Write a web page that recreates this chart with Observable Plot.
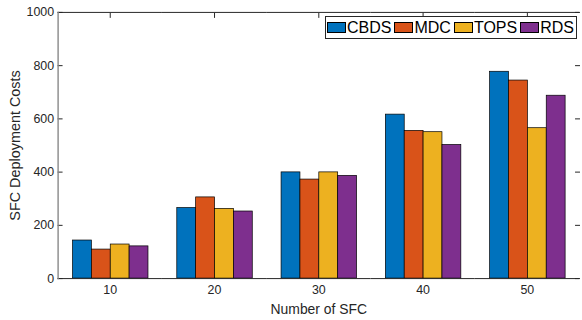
<!DOCTYPE html>
<html><head><meta charset="utf-8">
<script src="https://cdn.jsdelivr.net/npm/d3@7"></script>
<script src="https://cdn.jsdelivr.net/npm/@observablehq/plot@0.6"></script>
<style>
body{margin:0;background:#fff;}
#wrap{position:relative;width:582px;height:320px;overflow:hidden;background:#fff;}
#legend{position:absolute;left:325px;top:16px;width:252px;height:23px;border:1px solid #262626;box-sizing:border-box;background:#fff;display:flex;align-items:center;font:16px "Liberation Sans",Arial,sans-serif;color:#000;white-space:nowrap}
.item{display:flex;align-items:center;margin-left:3px}
.item:first-child{margin-left:1px}
.sw{display:inline-block;width:19px;height:11px;border:1px solid #000;box-sizing:border-box;margin-right:1px}
</style></head><body><div id="wrap"></div>
<script>
const groups = [10, 20, 30, 40, 50];
const methods = ["CBDS", "MDC", "TOPS", "RDS"];
const CBDS = [143, 265, 399, 616, 777];
const MDC = [109, 305, 372, 555, 744];
const TOPS = [128, 262, 399, 550, 565];
const RDS = [121, 252, 386, 502, 687];
const colors = ["#0072BD", "#D95319", "#EDB120", "#7E2F8E"];
const yTicks = [0, 200, 400, 600, 800, 1000];

const series = [CBDS, MDC, TOPS, RDS];
const data = groups.flatMap((g, i) => methods.map((m, j) => ({n: g, method: m, value: series[j][i]})));

const chart = Plot.plot({
  width: 586, height: 320,
  marginLeft: 57, marginRight: 2, marginTop: 12, marginBottom: 40,
  style: {fontFamily: '"Liberation Sans", Arial, sans-serif', fontSize: "12px", color: "#262626", background: "white"},
  fx: {domain: groups, padding: 0, axis: null},
  x: {domain: methods, paddingInner: 0, paddingOuter: 0.75, axis: null},
  y: {domain: [0, 1000], axis: null},
  color: {domain: methods, range: colors},
  marks: [
    Plot.barY(data, {fx: "n", x: "method", y: "value", fill: "method", stroke: "#000", strokeWidth: 0.7}),
    Plot.ruleY([0], {stroke: "#262626", strokeWidth: 1}),
    Plot.ruleY([1000], {stroke: "#262626", strokeWidth: 1}),
    Plot.axisY(yTicks, {anchor: "left", tickSize: 0, tickPadding: 4, fontSize: 12.5, tickFormat: d => String(d), label: null}),
    Plot.axisY(yTicks, {anchor: "left", tickSize: 5, dx: 5, stroke: "#262626", tickFormat: () => "", fontSize: 14.5, label: "SFC Deployment Costs", labelAnchor: "center", labelOffset: 49, labelArrow: "none"}),
    Plot.axisY(yTicks, {anchor: "right", tickSize: 5, dx: -5, stroke: "#262626", tickFormat: () => "", label: null}),
    Plot.axisFx({anchor: "top", tickSize: 5, dy: 5, stroke: "#262626", tickFormat: () => "", label: null}),
    Plot.axisFx({anchor: "bottom", tickSize: 0, tickPadding: 7, fontSize: 12.5, tickFormat: d => String(d), label: null}),
    Plot.axisFx({anchor: "bottom", tickSize: 0, tickFormat: () => "", fontSize: 14, label: "Number of SFC", labelAnchor: "center", labelOffset: 36}),
    Plot.frame({anchor: "left", facetAnchor: "left", stroke: "#888", strokeWidth: 1.4})
  ]
});
const wrap = document.getElementById("wrap");
wrap.appendChild(chart);
const legend = document.createElement("div");
legend.id = "legend";
methods.forEach((m, j) => {
  const it = document.createElement("span");
  it.className = "item";
  const sw = document.createElement("span");
  sw.className = "sw";
  sw.style.background = colors[j];
  it.appendChild(sw);
  it.appendChild(document.createTextNode(m));
  legend.appendChild(it);
});
wrap.appendChild(legend);
</script></body></html>
